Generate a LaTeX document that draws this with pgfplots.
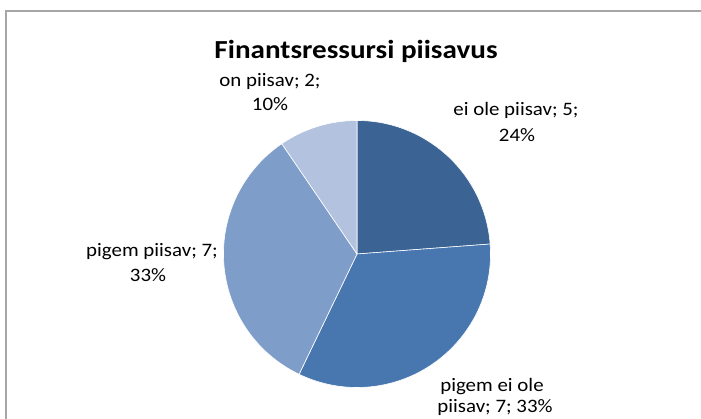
\documentclass[border=0pt]{standalone}
\usepackage{fontspec}
\setmainfont{Carlito}
\usepackage{graphicx}
\usepackage{pgfplots}
\usepackage{pgfplotstable}
\pgfplotsset{compat=1.18}
\definecolor{sA}{HTML}{3B6495}
\definecolor{sB}{HTML}{4877B0}
\definecolor{sC}{HTML}{7F9DC9}
\definecolor{sD}{HTML}{B3C2DE}
\definecolor{frame}{HTML}{A6A6A6}

\pgfplotstableread[col sep=comma]{
name,value,col
ei ole piisav,5,sA
pigem ei ole piisav,7,sB
pigem piisav,7,sC
on piisav,2,sD
}\piedata

\newcommand{\lbl}[1]{\scalebox{1.1}[1]{\fontsize{19}{23}\selectfont #1}}

\begin{document}
\begin{tikzpicture}
\useasboundingbox (0,0) rectangle (701pt,419pt);
\fill[white] (0,0) rectangle (701pt,419pt);
% total of values
\def\total{0}
\pgfplotsforeachungrouped \i in {0,...,3}{%
  \pgfplotstablegetelem{\i}{value}\of\piedata
  \pgfmathsetmacro{\total}{\total+\pgfplotsretval}%
}
\begin{axis}[
  at={(0,0)}, anchor=south west,
  scale only axis, width=701pt, height=419pt,
  xmin=0, xmax=701, ymin=0, ymax=419,
  hide axis, clip=false,
]
\def\angstart{90}
\pgfplotsforeachungrouped \i in {0,...,3}{%
  \pgfplotstablegetelem{\i}{value}\of\piedata
  \let\v=\pgfplotsretval
  \pgfplotstablegetelem{\i}{col}\of\piedata
  \let\c=\pgfplotsretval
  \pgfmathsetmacro{\angend}{\angstart-360*\v/\total}%
  \edef\cmd{\noexpand\fill[\c, draw=white, line width=0.6pt, line join=round]
    (axis cs:357,165) -- ++(\angstart:133.5pt)
    arc[start angle=\angstart, end angle=\angend, radius=133.5pt] -- cycle;}%
  \cmd
  \let\angstart=\angend
}
% title
\node[anchor=base] at (axis cs:356,360)
  {\scalebox{1.12}[1]{\fontsize{26}{31}\selectfont\bfseries Finantsressursi piisavus}};
% data labels
\node[anchor=base] at (axis cs:270,332) {\lbl{on piisav; 2;}};
\node[anchor=base] at (axis cs:270,308) {\lbl{10\%}};
\node[anchor=base] at (axis cs:516,303) {\lbl{ei ole piisav; 5;}};
\node[anchor=base] at (axis cs:517,277) {\lbl{24\%}};
\node[anchor=base] at (axis cs:152,162) {\lbl{pigem piisav; 7;}};
\node[anchor=base] at (axis cs:148,137) {\lbl{33\%}};
\node[anchor=base] at (axis cs:492,27) {\lbl{pigem ei ole}};
\node[anchor=base] at (axis cs:495,6.5) {\lbl{piisav; 7; 33\%}};
\end{axis}
\draw[frame, line width=2pt] (6pt,-5pt) -- (6pt,408pt) -- (710pt,408pt);
\end{tikzpicture}
\end{document}
